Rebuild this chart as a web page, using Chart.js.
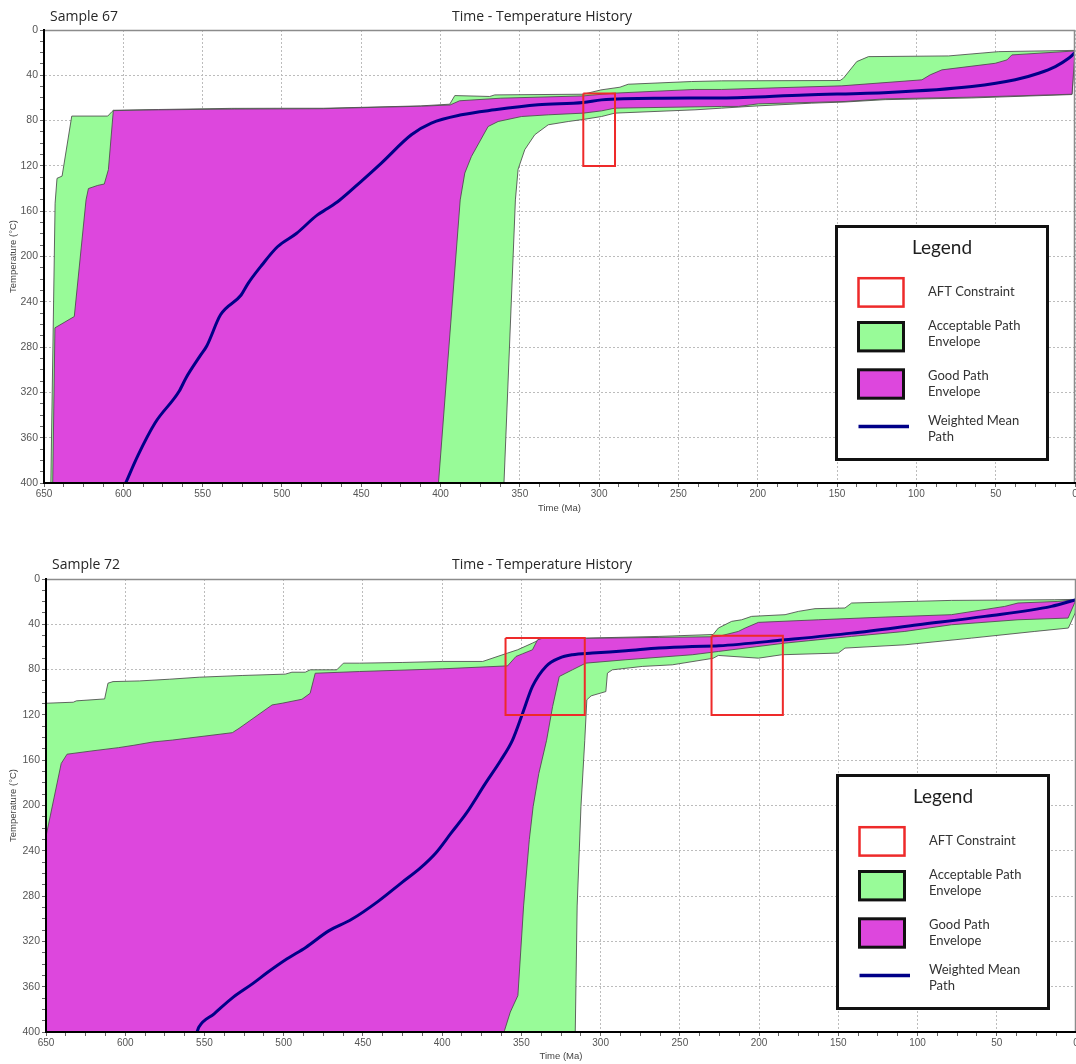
<!DOCTYPE html>
<html>
<head>
<meta charset="utf-8">
<title>Time - Temperature History</title>
<script src="https://cdn.jsdelivr.net/npm/chart.js@4.4.1/dist/chart.umd.min.js"></script>
<style>
  html, body { margin: 0; padding: 0; background: #fff; overflow: hidden; }
  #wrap { position: relative; width: 1076px; height: 1064px; }
  canvas { position: absolute; left: 0; }
</style>
</head>
<body>
<div id="wrap">
  <canvas id="c67" width="1076" height="520" style="top:0px"></canvas>
  <canvas id="c72" width="1076" height="532" style="top:532px"></canvas>
</div>
<script>
// ---- Sample 67: [age (Ma), temperature (°C)] ----
const s67AccUpper = [[645.7,400],[643,153],[641.8,131],[638.6,129],[632.5,76],[609.8,76],[607.1,72],[606.3,70.9],[578,70.2],[532,69.2],[498,69.1],[474,69.1],[450,68.3],[412.5,67],[394.2,65.5],[391,57.9],[369,58.7],[365.8,57.3],[310,56.7],[298.9,52.9],[286.9,50.5],[281.7,47.9],[241.7,45.5],[222.8,44.9],[148.1,44.6],[146,42.6],[137.6,27.9],[130.2,23.5],[79.7,22.9],[48.1,19.1],[0,18]];
const s67AccLower = [[645.7,400],[360,400],[352.8,150],[351.1,123],[346.9,105.7],[340.6,92.5],[332.1,83.7],[319.5,80.8],[310,79],[298.5,76.4],[290.1,73.4],[239.6,70.5],[222.8,69],[200,67],[166,64.6],[145,63.6],[119.7,61.5],[65,60],[1.9,57],[0,19]];
const s67GoodUpper = [[644.5,400],[643.1,263],[630.9,253],[623.5,150],[622,140],[616.1,137.2],[612,136],[609.4,123.3],[606.3,71.2],[578,70.5],[530,69.8],[474,69.5],[450,68.6],[412,67.3],[394,66.2],[388,62.5],[362,60.2],[310,58.2],[291,55.8],[240,52.5],[222.8,52.5],[147,49.3],[96.5,44],[91.3,39.6],[83.9,35.2],[50.3,29.4],[42.9,26.4],[39.8,22],[0,18.5]];
const s67GoodLower = [[644.5,400],[401.3,400],[387.6,150],[384.7,126.3],[380.5,111.6],[370,85.2],[363.7,80.8],[349,76.4],[332.1,74.9],[310,73.4],[298.5,71.4],[290.1,69],[222.8,67.5],[212.2,67.5],[199.6,65.2],[145,63.1],[119.7,60.8],[65,59.3],[1.9,56.7],[0,19]];
const s67Mean = [[598.5,400],[590.9,376],[580,347],[564.8,319],[560.4,307],[551.7,288],[547.4,279],[538.7,251.5],[525.7,234],[521.3,223.7],[512.6,207.5],[502.8,191.4],[490.9,179.7],[477.8,163.5],[471.3,157.7],[463.7,150.3],[450,133.6],[437.3,117.5],[418.4,92.5],[405.8,82.2],[386.8,74.9],[365.8,70.5],[338.5,66.1],[310,64],[298.5,61.7],[260.6,60.2],[222.8,60],[170.2,57.3],[117.6,55.2],[65,49.9],[37.7,44],[22.9,38.2],[12.4,32.3],[4,25],[0,20]];
// AFT constraint boxes: [older age, younger age, low temp, high temp]
const s67Aft = [[310,290,56,120]];

// ---- Sample 72 ----
const s72AccUpper = [[650,109.7],[632.8,108.8],[630.8,107.6],[613,105.9],[610.9,92],[607.7,90.6],[591,90],[572.2,88.5],[553.3,86.7],[526.2,85.2],[499,84],[494.8,82.3],[486.4,82.3],[483.3,80.2],[466.5,80.2],[462.3,74.3],[452.1,74.3],[424.8,73.7],[399.6,72.8],[374.4,72.8],[358.7,65.4],[352.4,62.5],[343,56.6],[337.7,53.1],[309.4,52.2],[263.2,50.7],[229,49],[225.7,43.3],[217.3,37.4],[211,36],[204.7,33],[183.6,31.5],[175.2,28.6],[164.7,26.2],[145.8,25.6],[141.6,21.2],[78.6,18.9],[13.4,18.3],[0,18]];
const s72AccLower = [[650,400],[316,400],[314.8,288.7],[312.4,201],[310,142.4],[308.7,106.7],[306,103.2],[296.7,99.4],[295.7,83.1],[292.6,80.2],[273.7,77.2],[254.8,75.8],[229,70],[225.7,67.5],[200.4,69.9],[185.7,66.9],[150,65.4],[145.8,61],[108,58.1],[66,52.2],[26,46.3],[4.8,43.3],[0.5,30],[0,18]];
const s72GoodUpper = [[650,227.3],[640.4,162.9],[636.7,154.7],[621,151.8],[604.2,148.9],[594.5,146.8],[582.5,143.9],[570.1,142.2],[532.4,135.7],[528.2,131.9],[507.3,111.2],[501,109.7],[488.5,106.2],[483.3,100.9],[480.1,83.2],[452.1,81.7],[399.6,79.3],[358.7,76.7],[353.4,68.4],[349.2,66],[343,62.5],[339.8,53.7],[337,52.5],[309,52.4],[263,51.6],[229,51],[225.7,50.7],[213.1,46.3],[208.8,43.3],[200.4,38.3],[162.6,36],[120.5,33.6],[78.6,31.5],[45,24.2],[36.6,21.2],[11.4,19.8],[0,18.3]];
const s72GoodLower = [[650,400],[361.1,400],[360.6,398.5],[357,382.4],[352.2,367.8],[348.6,288.7],[345,230.2],[342.6,201],[339,171.7],[334.1,142.4],[330.3,112.6],[326.1,86.1],[321.9,83.1],[317.8,80.2],[309.4,74.3],[284,71.3],[242.2,66.9],[225.7,64],[183.6,56.6],[141.6,50.7],[108,46.3],[78.6,40.4],[36.6,36],[5,34.5],[0,18.3]];
const s72Mean = [[554.7,400],[553.5,395.6],[543.9,383.9],[531.8,369.2],[519.8,357.5],[510.1,347.3],[498.1,335.6],[486.1,325.3],[471.6,310.7],[457.1,300.5],[440.2,284.4],[425.7,268.3],[413.7,255.1],[404,241.9],[394.4,224.4],[384.7,206.8],[372.7,180.5],[363,160],[355.6,142.2],[349.2,118.5],[343,94.9],[334.5,77.2],[326.1,69.9],[317.8,66.9],[305.2,65.4],[284,63.4],[263.2,61],[242.2,59.6],[225.4,59],[183.6,53.7],[141.6,47.8],[99.6,40.4],[57.5,33],[15.5,24.2],[0,18.3]];
const s72Aft = [[360,310,52,120],[230,185,50,120]];

// ---- axes ----
const AGE_RANGE = [0, 650];
const TEMP_RANGE = [0, 400];
const AGE_MINOR = 12.5, AGE_MAJOR = 50;
const TEMP_MINOR = 10, TEMP_MAJOR = 40;

const COLORS = {
  acceptable: '#98fb98',
  good: '#dd47dd',
  mean: '#000088',
  aft: '#ee2a2a',
  edge: 'rgba(75,75,75,0.85)',
  grid: '#bcbcbc',
  text: '#262626',
  tick: '#555'
};

Chart.defaults.font.family = "'Liberation Sans', Arial, sans-serif";

const toPoints = arr => arr.map(([x, y]) => ({ x, y }));
const boxOutline = ([a0, a1, t0, t1]) => [[a0, t0], [a1, t0], [a1, t1], [a0, t1], [a0, t0]];

function buildDatasets(s) {
  const sets = [
    { label: 'Acceptable Path Envelope', data: toPoints(s.accUpper), fill: '+1',
      backgroundColor: COLORS.acceptable, borderColor: COLORS.edge, borderWidth: 1, order: 7 },
    { label: 'Acceptable lower', data: toPoints(s.accLower), fill: false,
      borderColor: COLORS.edge, borderWidth: 1, order: 6 },
    { label: 'Good Path Envelope', data: toPoints(s.goodUpper), fill: '+1',
      backgroundColor: COLORS.good, borderColor: COLORS.edge, borderWidth: 1, order: 5 },
    { label: 'Good lower', data: toPoints(s.goodLower), fill: false,
      borderColor: COLORS.edge, borderWidth: 1, order: 4 },
    { label: 'Weighted Mean Path', data: toPoints(s.mean), fill: false,
      borderColor: COLORS.mean, borderWidth: 3, borderJoinStyle: 'round', borderCapStyle: 'round',
      cubicInterpolationMode: 'monotone', order: 1 }
  ];
  s.aft.forEach(b => sets.push({
    label: 'AFT Constraint', data: toPoints(boxOutline(b)), fill: false,
    borderColor: COLORS.aft, borderWidth: 2, order: 0
  }));
  return sets;
}

// Frame, titles and the boxed legend
const decorations = {
  id: 'decorations',
  afterDatasetsDraw(chart) {
    const { ctx, chartArea: a } = chart;
    ctx.save();
    ctx.strokeStyle = '#8c8c8c';
    ctx.lineWidth = 1.5;
    ctx.beginPath();
    ctx.moveTo(a.left, a.top + 0.5);
    ctx.lineTo(a.right - 0.5, a.top + 0.5);
    ctx.lineTo(a.right - 0.5, a.bottom);
    ctx.stroke();
    ctx.restore();
  },
  afterDraw(chart, args, opts) {
    const { ctx, chartArea: a } = chart;
    ctx.save();
    // titles
    ctx.fillStyle = COLORS.text;
    ctx.font = "14px 'Open Sans', sans-serif";
    ctx.textBaseline = 'alphabetic';
    ctx.textAlign = 'left';
    ctx.fillText(opts.sample, opts.sampleX, opts.titleBaseline);
    ctx.textAlign = 'center';
    ctx.fillText(opts.title, opts.titleX, opts.titleBaseline);

    // legend box
    const L = a.right - 238.5, T = a.top + 196.5, W = 211, H = 233;
    ctx.fillStyle = '#fff';
    ctx.fillRect(L, T, W, H);
    ctx.lineWidth = 3;
    ctx.strokeStyle = '#111';
    ctx.strokeRect(L, T, W, H);

    ctx.fillStyle = '#1e1e1e';
    ctx.font = "19px Lato, 'Open Sans', sans-serif";
    ctx.textAlign = 'center';
    ctx.fillText('Legend', L + 105.5, T + 27);

    const ds = chart.data.datasets;
    const swX = L + 22, swW = 45, swH = 28.4, txtX = L + 91.5;
    // AFT box swatch
    ctx.fillStyle = '#fff';
    ctx.fillRect(swX, T + 51.7, swW, swH);
    ctx.strokeStyle = ds[5].borderColor;
    ctx.lineWidth = 2.5;
    ctx.strokeRect(swX, T + 51.7, swW, swH);
    // envelope swatches
    [[0, T + 96], [2, T + 143.3]].forEach(([i, y]) => {
      ctx.fillStyle = ds[i].backgroundColor;
      ctx.fillRect(swX, y, swW, swH);
      ctx.strokeStyle = '#111';
      ctx.lineWidth = 3;
      ctx.strokeRect(swX, y, swW, swH);
    });
    // mean path swatch
    ctx.strokeStyle = ds[4].borderColor;
    ctx.lineWidth = 3.5;
    ctx.beginPath();
    ctx.moveTo(L + 22, T + 200);
    ctx.lineTo(L + 72.5, T + 200);
    ctx.stroke();

    ctx.fillStyle = '#333';
    ctx.font = "13px Lato, 'Open Sans', sans-serif";
    ctx.textAlign = 'left';
    ctx.textBaseline = 'middle';
    const lines = [
      ['AFT Constraint', 65],
      ['Acceptable Path', 99], ['Envelope', 115.5],
      ['Good Path', 149.3], ['Envelope', 165.5],
      ['Weighted Mean', 194], ['Path', 210.5]
    ];
    lines.forEach(([t, dy]) => ctx.fillText(t, txtX, T + dy));
    ctx.restore();
  }
};

function makeChart(canvasId, series, frame) {
  const canvas = document.getElementById(canvasId);
  const W = canvas.width, Hc = canvas.height;
  const titleFont = { size: 9.5, lineHeight: 1.2 };
  const half = titleFont.size * titleFont.lineHeight / 2;

  return new Chart(canvas, {
    type: 'line',
    data: { datasets: buildDatasets(series) },
    plugins: [decorations],
    options: {
      responsive: false,
      animation: false,
      devicePixelRatio: 1,
      events: [],
      layout: { padding: { top: frame.top, left: 0, right: W - frame.right, bottom: 0 } },
      elements: { point: { radius: 0, hoverRadius: 0 }, line: { tension: 0 } },
      plugins: {
        legend: { display: false },
        tooltip: { enabled: false },
        title: { display: false },
        decorations: {
          sample: frame.sample, title: 'Time - Temperature History',
          sampleX: frame.sampleX, titleX: 542, titleBaseline: frame.titleBaseline
        }
      },
      scales: {
        x: {
          type: 'linear', position: 'bottom', reverse: true,
          min: AGE_RANGE[0], max: AGE_RANGE[1],
          afterFit: s => { s.height = Hc - frame.bottom; s.paddingLeft = 0; s.paddingRight = 0; },
          ticks: {
            stepSize: AGE_MINOR, autoSkip: false, maxRotation: 0, minRotation: 0,
            padding: 1, color: COLORS.tick, font: { size: 10 },
            callback: v => (v % AGE_MAJOR === 0 ? String(v) : '')
          },
          grid: {
            color: c => (c.tick && c.tick.value % AGE_MAJOR === 0 ? COLORS.grid : 'rgba(0,0,0,0)'),
            lineWidth: 1, tickLength: 4, tickColor: '#666', tickWidth: 1
          },
          border: { color: '#000', width: 2, dash: [2, 2], z: 2 },
          title: {
            display: true, text: 'Time (Ma)', color: '#444', font: titleFont,
            padding: { top: 0, bottom: frame.xTitleOffset - half }
          }
        },
        y: {
          type: 'linear', position: 'left', reverse: true,
          min: TEMP_RANGE[0], max: TEMP_RANGE[1],
          afterFit: s => { s.width = frame.left; s.paddingTop = 0; s.paddingBottom = 0; },
          ticks: {
            stepSize: TEMP_MINOR, autoSkip: false, padding: 2, color: COLORS.tick, font: { size: 10.5 },
            callback: v => (v % TEMP_MAJOR === 0 ? String(v) : '')
          },
          grid: {
            color: c => (c.tick && c.tick.value % TEMP_MAJOR === 0 ? COLORS.grid : 'rgba(0,0,0,0)'),
            lineWidth: 1, tickLength: 4, tickColor: '#666', tickWidth: 1
          },
          border: { color: '#000', width: 2, dash: [2, 2], z: 2 },
          title: {
            display: true, text: 'Temperature (°C)', color: '#444', font: titleFont,
            padding: { top: 13.3 - half, bottom: 0 }
          }
        }
      }
    }
  });
}

makeChart('c67', {
  accUpper: s67AccUpper, accLower: s67AccLower,
  goodUpper: s67GoodUpper, goodLower: s67GoodLower,
  mean: s67Mean, aft: s67Aft
}, { left: 44, right: 1075, top: 30, bottom: 483, xTitleOffset: 12,
     sample: 'Sample 67', sampleX: 50, titleBaseline: 21 });

makeChart('c72', {
  accUpper: s72AccUpper, accLower: s72AccLower,
  goodUpper: s72GoodUpper, goodLower: s72GoodLower,
  mean: s72Mean, aft: s72Aft
}, { left: 46, right: 1076, top: 47, bottom: 500, xTitleOffset: 8,
     sample: 'Sample 72', sampleX: 52, titleBaseline: 37 });
</script>
</body>
</html>
